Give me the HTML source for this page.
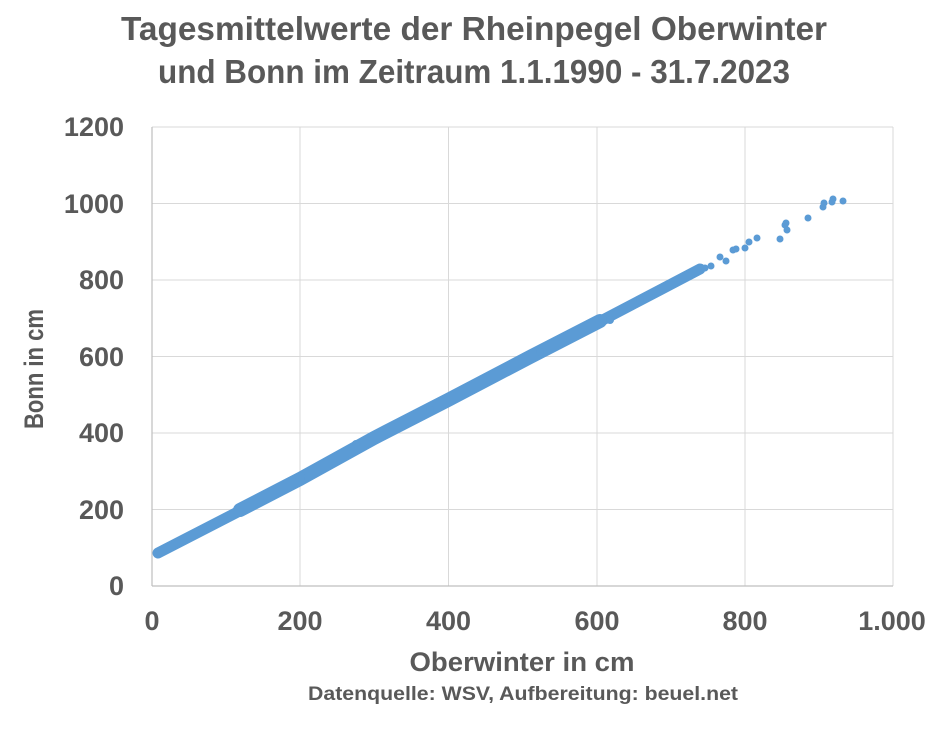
<!DOCTYPE html>
<html><head><meta charset="utf-8"><style>
body{margin:0;background:#fff;}
svg{display:block;font-family:"Liberation Sans",sans-serif;}
</style></head><body>
<svg width="948" height="729" viewBox="0 0 948 729">
<rect width="948" height="729" fill="#fff"/>
<g fill="#595959" font-weight="bold" text-anchor="middle">
<text x="474" y="40" font-size="33" textLength="706" lengthAdjust="spacingAndGlyphs">Tagesmittelwerte der Rheinpegel Oberwinter</text>
<text x="474" y="83" font-size="33" textLength="632" lengthAdjust="spacingAndGlyphs">und Bonn im Zeitraum 1.1.1990 - 31.7.2023</text>
</g>
<g stroke="#d9d9d9" stroke-width="1">
<line x1="152" y1="127" x2="893" y2="127"/>
<line x1="152" y1="203.5" x2="893" y2="203.5"/>
<line x1="152" y1="280" x2="893" y2="280"/>
<line x1="152" y1="356.5" x2="893" y2="356.5"/>
<line x1="152" y1="433" x2="893" y2="433"/>
<line x1="152" y1="509.5" x2="893" y2="509.5"/>
<line x1="300" y1="127" x2="300" y2="586"/>
<line x1="448.5" y1="127" x2="448.5" y2="586"/>
<line x1="597" y1="127" x2="597" y2="586"/>
<line x1="745" y1="127" x2="745" y2="586"/>
<line x1="893" y1="127" x2="893" y2="586"/>
</g>
<g stroke="#bfbfbf" stroke-width="1.2">
<line x1="152" y1="127" x2="152" y2="586"/>
<line x1="152" y1="586" x2="893" y2="586"/>
</g>
<g fill="#595959" font-size="27" font-weight="bold" text-anchor="end">
<text x="124" y="595">0</text>
<text x="124" y="519">200</text>
<text x="124" y="442">400</text>
<text x="124" y="366">600</text>
<text x="124" y="289">800</text>
<text x="124" y="213">1000</text>
<text x="124" y="136">1200</text>
</g>
<g fill="#595959" font-size="27" font-weight="bold" text-anchor="middle">
<text x="152" y="630">0</text>
<text x="300" y="630">200</text>
<text x="448.5" y="630">400</text>
<text x="597" y="630">600</text>
<text x="745" y="630">800</text>
<text x="892" y="630">1.000</text>
</g>
<text x="522" y="671" fill="#595959" font-size="27" font-weight="bold" text-anchor="middle" textLength="225" lengthAdjust="spacingAndGlyphs">Oberwinter in cm</text>
<text transform="translate(43,369) rotate(-90)" fill="#595959" font-size="27" font-weight="bold" text-anchor="middle" textLength="120" lengthAdjust="spacingAndGlyphs">Bonn in cm</text>
<text x="523" y="700" fill="#595959" font-size="19" font-weight="bold" text-anchor="middle" textLength="430" lengthAdjust="spacingAndGlyphs">Datenquelle: WSV, Aufbereitung: beuel.net</text>
<polyline fill="none" stroke="#5b9bd5" stroke-width="11" stroke-linecap="round" stroke-linejoin="round"
points="158,553 226,518 300,480 374,439 448,401 522,362 597,323 660,290 700,269"/>
<polyline fill="none" stroke="#5b9bd5" stroke-width="14" stroke-linecap="round"
points="240,510 300,479 374,438 448,400 530,357 600,321"/>
<g fill="#5b9bd5">
<circle cx="300" cy="477" r="5"/><circle cx="356" cy="444" r="4"/><circle cx="430" cy="410" r="4"/>
<circle cx="540" cy="352" r="4"/><circle cx="610" cy="320" r="4"/><circle cx="640" cy="300" r="4"/>
<circle cx="705" cy="268" r="3.5"/><circle cx="711" cy="266" r="3.5"/><circle cx="720" cy="257" r="3.5"/>
<circle cx="726" cy="261" r="3.5"/><circle cx="733" cy="250" r="3.5"/><circle cx="736" cy="249" r="3.5"/>
<circle cx="745" cy="248" r="3.5"/><circle cx="749" cy="242" r="3.5"/><circle cx="757" cy="238" r="3.5"/>
<circle cx="780" cy="239" r="3.5"/><circle cx="785" cy="225" r="3.5"/><circle cx="786" cy="223" r="3.5"/>
<circle cx="787" cy="230" r="3.5"/><circle cx="808" cy="218" r="3.5"/><circle cx="823" cy="207" r="3.5"/>
<circle cx="824" cy="203" r="3.5"/><circle cx="832" cy="202" r="3.5"/><circle cx="833" cy="199" r="3.5"/>
<circle cx="843" cy="201" r="3.5"/>
</g>
</svg>
</body></html>
